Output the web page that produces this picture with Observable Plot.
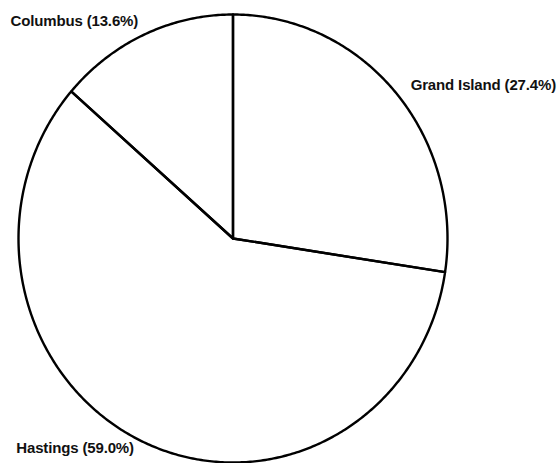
<!DOCTYPE html>
<html>
<head>
<meta charset="utf-8">
<script src="https://cdn.jsdelivr.net/npm/d3@7"></script>
<script src="https://cdn.jsdelivr.net/npm/@observablehq/plot@0.6"></script>
<style>
  html, body { margin: 0; padding: 0; background: #fff; }
  #chart svg { display: block; }
</style>
</head>
<body>
<div id="chart"></div>
<script>
// Data (clockwise from 12 o'clock)
const cities = ["Grand Island", "Hastings", "Columbus"];
const shares = [27.4, 59.0, 13.6];

const total = d3.sum(shares);
let acc = 0;
const slices = cities.map((name, i) => {
  const a0 = acc / total * 2 * Math.PI;
  acc += shares[i];
  const a1 = acc / total * 2 * Math.PI;
  return { name, value: shares[i], a0, a1, mid: (a0 + a1) / 2,
           label: `${name} (${shares[i].toFixed(1)}%)` };
});

// Wedge outlines: center -> arc -> center
const outline = [];
for (const s of slices) {
  outline.push({ name: s.name, x: 0, y: 0 });
  const n = Math.max(8, Math.ceil((s.a1 - s.a0) / 0.01));
  for (let k = 0; k <= n; k++) {
    const a = s.a0 + (s.a1 - s.a0) * k / n;
    outline.push({ name: s.name, x: Math.sin(a), y: Math.cos(a) });
  }
  outline.push({ name: s.name, x: 0, y: 0 });
}

const labelPts = slices.map(s => ({ ...s, x: Math.sin(s.mid), y: Math.cos(s.mid) }));
const byName = n => labelPts.filter(d => d.name === n);

const font = { fontSize: 15, fontWeight: 600, fill: "#111" };

const chart = Plot.plot({
  width: 559,
  height: 463,
  margin: 0,
  style: { fontFamily: "'Liberation Sans', Arial, sans-serif", background: "#fff" },
  x: { domain: [-1, 1], range: [18, 447], axis: null },
  y: { domain: [-1, 1], range: [462, 14], axis: null },
  marks: [
    Plot.line(outline, { x: "x", y: "y", z: "name", stroke: "#000", strokeWidth: 2.4,
      fill: "none", strokeLinejoin: "round" }),
    Plot.text(byName("Columbus"), { x: "x", y: "y", text: "label", textAnchor: "end",
      dx: -6, dy: -13, ...font }),
    Plot.text(byName("Grand Island"), { x: "x", y: "y", text: "label", textAnchor: "start",
      dx: 15, dy: -7, ...font }),
    Plot.text(byName("Hastings"), { x: "x", y: "y", text: "label", textAnchor: "end",
      dx: -9, dy: 6, ...font })
  ]
});
chart.querySelectorAll("text").forEach(t => t.setAttribute("letter-spacing", "-0.15"));
document.getElementById("chart").appendChild(chart);
</script>
</body>
</html>
